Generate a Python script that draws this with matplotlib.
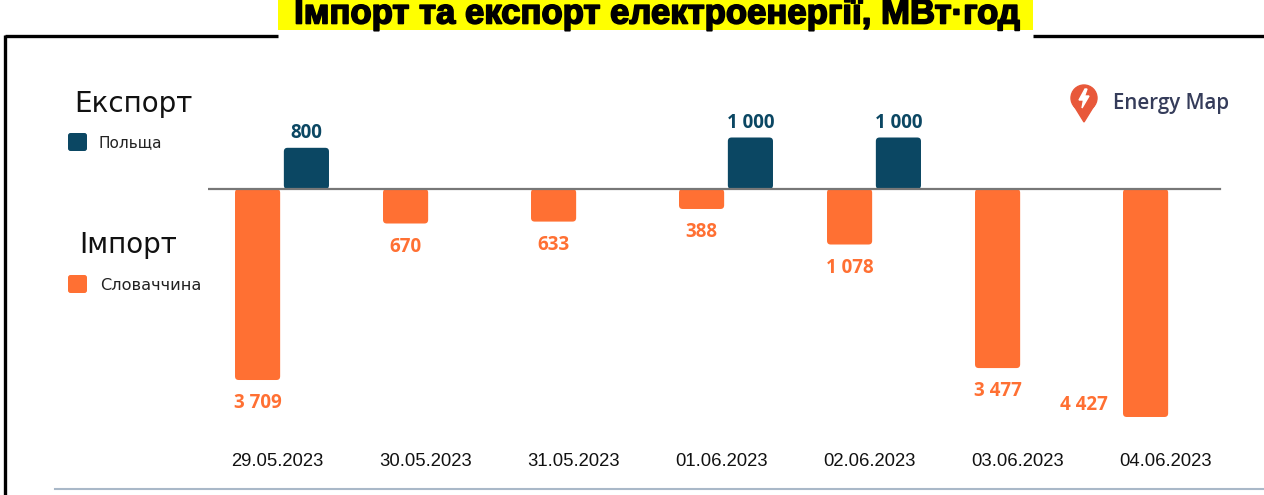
import matplotlib
matplotlib.use("Agg")
import matplotlib.pyplot as plt
from matplotlib.patches import Rectangle, Circle, Polygon, FancyBboxPatch
from matplotlib.lines import Line2D
import matplotlib.patheffects as pe

dates = ["29.05.2023", "30.05.2023", "31.05.2023", "01.06.2023",
         "02.06.2023", "03.06.2023", "04.06.2023"]
export_poland = [800, 0, 0, 1000, 1000, 0, 0]
import_slovakia = [3709, 670, 633, 388, 1078, 3477, 4427]

title = "Імпорт та експорт електроенергії, МВт·год"
export_label = "Експорт"
import_label = "Імпорт"
poland_label = "Польща"
slovakia_label = "Словаччина"
brand = "Energy Map"

ORANGE = "#FF7033"
BLUE = "#0B4763"

W, H = 1264, 495
fig = plt.figure(figsize=(W / 100, H / 100), dpi=100)

def fx(px):
    return px / W

def fy(py):
    return 1 - py / H

# main axes: category centers at 282 + 148*i px, zero line at y=189 px
scale = 0.0515  # px per unit
ymin, ymax = -5000, 1500
left_px = 208
width_px = 7 * 148
top_px = 189 - ymax * scale
bot_px = 189 - ymin * scale
ax = fig.add_axes([fx(left_px), fy(bot_px), fx(width_px), (bot_px - top_px) / H])
ax.set_xlim(-0.5, 6.5)
ax.set_ylim(ymin, ymax)
ax.axis("off")

def fmt(v):
    return f"{v:,}".replace(",", " ")

def round_bars(container):
    aspect = (1 / scale) * 148
    for r in container.patches:
        x, y = r.get_xy()
        w, h = r.get_width(), r.get_height()
        y0 = min(y, y + h)
        p = FancyBboxPatch((x, y0), w, abs(h), boxstyle="round,pad=0,rounding_size=0.025",
                           mutation_aspect=aspect, facecolor=r.get_facecolor(),
                           edgecolor="none", zorder=2)
        r.remove()
        ax.add_patch(p)

bw = 0.305
off = 0.165
n = len(dates)
for i, (e, m) in enumerate(zip(export_poland, import_slovakia)):
    if m:
        round_bars(ax.bar(i - off, -m, width=bw, color=ORANGE, zorder=2))
        dx = -62 if i == n - 1 else 0
        dy = 12 if i == n - 1 else -23
        ax.annotate(fmt(m), (i - off, -m), xytext=(dx * 0.72, dy * 0.72),
                    textcoords="offset points", ha="center", va="center",
                    color=ORANGE, fontsize=13.5, fontweight="bold",
                    family="Open Sans")
    if e:
        round_bars(ax.bar(i + off, e, width=bw, color=BLUE, zorder=2))
        ax.annotate(fmt(e), (i + off, e), xytext=(0, 15 * 0.72),
                    textcoords="offset points", ha="center", va="center",
                    color=BLUE, fontsize=13.5, fontweight="bold",
                    family="Open Sans")
ax.axhline(0, xmin=0, xmax=(1220 - left_px) / width_px, color="#777777",
           lw=1.6, zorder=3)

# date labels (x in category units, y at fixed pixel row 461)
for i, d in enumerate(dates):
    ax.text(i - 0.03, -(461 - 189) / scale, d, ha="center", va="center",
            fontsize=13.3, family="Liberation Sans", color="#111111", clip_on=False)

# title bar & frame
fig.patches.append(Rectangle((fx(278), fy(30)), fx(1033 - 278), 30 / H,
                             transform=fig.transFigure, facecolor="#FFFF00",
                             edgecolor="none", zorder=1))
fig.text(fx(657), fy(14), title, ha="center", va="center", fontsize=25,
         fontweight="bold", family="Liberation Sans", color="black",
         path_effects=[pe.withStroke(linewidth=1.2, foreground="black")])
lw_frame = 2.4
fig.lines.append(Line2D([fx(5), fx(278)], [fy(36), fy(36)], transform=fig.transFigure,
                        color="black", lw=lw_frame, solid_capstyle="butt"))
fig.lines.append(Line2D([fx(1033), fx(1264)], [fy(36), fy(36)], transform=fig.transFigure,
                        color="black", lw=lw_frame, solid_capstyle="butt"))
fig.lines.append(Line2D([fx(5), fx(5)], [fy(35), fy(495)], transform=fig.transFigure,
                        color="black", lw=lw_frame, solid_capstyle="butt"))
fig.lines.append(Line2D([fx(55), fx(1264)], [fy(489), fy(489)], transform=fig.transFigure,
                        color="#A9B8C8", lw=1.5))

# legend
fig.text(fx(74), fy(104), export_label, ha="left", va="center", fontsize=20,
         family="DejaVu Sans", color="#111111")
fig.patches.append(FancyBboxPatch((fx(68), fy(151)), fx(19), 18 / H,
                                  boxstyle="round,pad=0,rounding_size=0.002",
                                  mutation_aspect=W / H,
                                  transform=fig.transFigure,
                                  facecolor=BLUE, edgecolor="none"))
fig.text(fx(98), fy(143), poland_label, ha="left", va="center", fontsize=11,
         family="DejaVu Sans", color="#222222")
fig.text(fx(79), fy(245), import_label, ha="left", va="center", fontsize=20,
         family="DejaVu Sans", color="#111111")
fig.patches.append(FancyBboxPatch((fx(68), fy(293)), fx(19), 18 / H,
                                  boxstyle="round,pad=0,rounding_size=0.002",
                                  mutation_aspect=W / H,
                                  transform=fig.transFigure,
                                  facecolor=ORANGE, edgecolor="none"))
fig.text(fx(100), fy(285), slovakia_label, ha="left", va="center", fontsize=11.6,
         family="DejaVu Sans", color="#222222")

# logo
lax = fig.add_axes([fx(1066), fy(124), fx(36), 40 / H])
lax.set_xlim(0, 36)
lax.set_ylim(0, 40)
lax.set_aspect("equal")
lax.axis("off")
lax.add_patch(Circle((18, 26), 13, color="#E8583A"))
lax.add_patch(Polygon([[7.5, 19], [28.5, 19], [18, 2]], closed=True, color="#E8583A"))
lax.add_patch(Polygon([[19, 35], [13, 24], [17.5, 24], [16, 16], [23, 28], [18.5, 28], [21, 35]],
                      closed=True, color="white"))
fig.text(fx(1113), fy(103), brand, ha="left", va="center", fontsize=14.8,
         fontweight="semibold", family="Open Sans", color="#353C5A")

fig.savefig("out.png", dpi=100, facecolor="white")
